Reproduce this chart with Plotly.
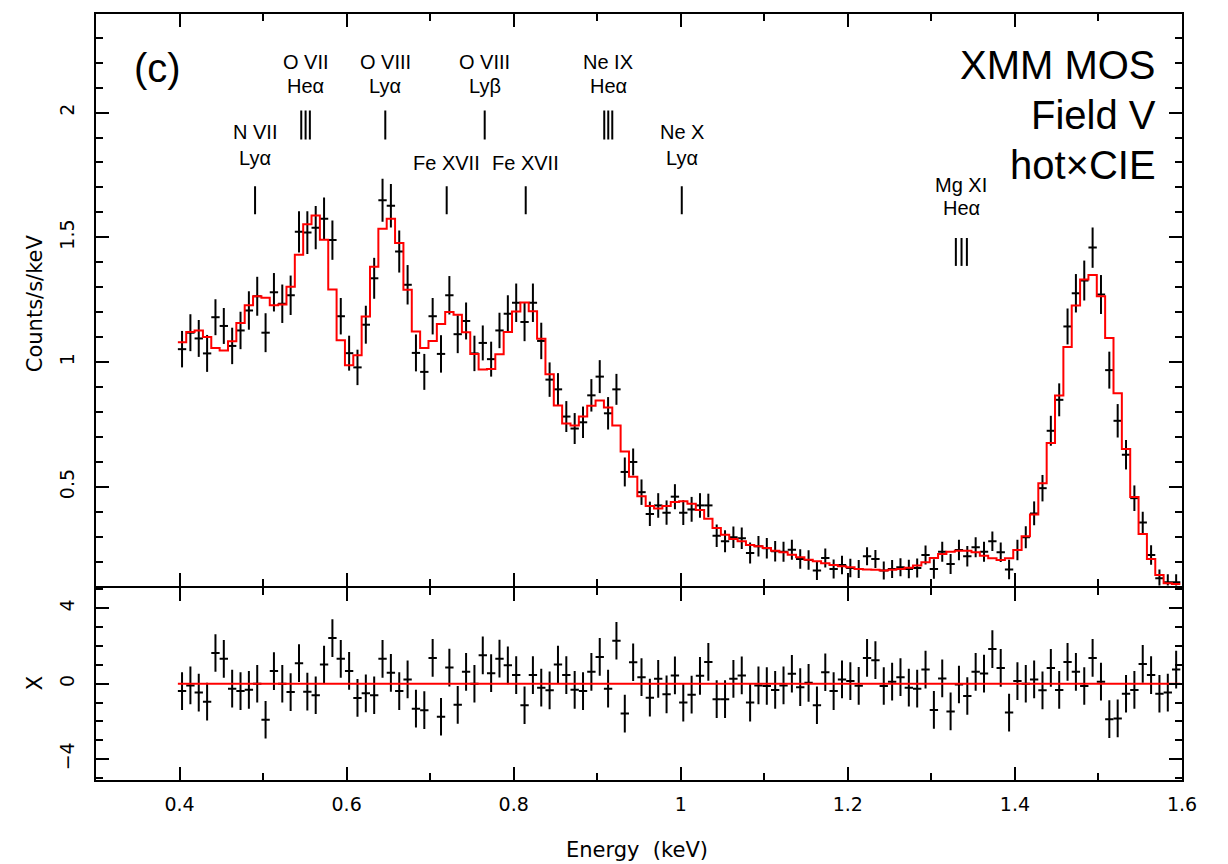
import plotly.graph_objects as go

# Bin centres (keV), binned spectrum, model and residuals
energy_kev = [
    0.403, 0.413, 0.423, 0.433, 0.443, 0.453, 0.463, 0.473, 0.483, 0.493,
    0.503, 0.513, 0.523, 0.533, 0.543, 0.553, 0.563, 0.573, 0.583, 0.593,
    0.603, 0.613, 0.623, 0.633, 0.643, 0.653, 0.663, 0.673, 0.683, 0.693,
    0.703, 0.713, 0.723, 0.733, 0.743, 0.753, 0.763, 0.773, 0.783, 0.793,
    0.803, 0.813, 0.823, 0.833, 0.843, 0.853, 0.863, 0.873, 0.883, 0.893,
    0.903, 0.913, 0.923, 0.933, 0.943, 0.953, 0.963, 0.973, 0.983, 0.993,
    1.003, 1.013, 1.023, 1.033, 1.043, 1.053, 1.063, 1.073, 1.083, 1.093,
    1.103, 1.113, 1.123, 1.133, 1.143, 1.153, 1.163, 1.173, 1.183, 1.193,
    1.203, 1.213, 1.223, 1.233, 1.243, 1.253, 1.263, 1.273, 1.283, 1.293,
    1.303, 1.313, 1.323, 1.333, 1.343, 1.353, 1.363, 1.373, 1.383, 1.393,
    1.403, 1.413, 1.423, 1.433, 1.443, 1.453, 1.463, 1.473, 1.483, 1.493,
    1.503, 1.513, 1.523, 1.533, 1.543, 1.553, 1.563, 1.573, 1.583, 1.593,
]
bin_half_width = 0.005

counts = [
    1.052, 1.118, 1.095, 1.035, 1.180, 1.145, 1.065, 1.127, 1.207, 1.264,
    1.118, 1.280, 1.234, 1.268, 1.522, 1.519, 1.539, 1.575, 1.489, 1.184,
    1.036, 0.979, 1.150, 1.336, 1.649, 1.627, 1.443, 1.310, 1.037, 0.961,
    1.184, 1.033, 1.268, 1.112, 1.165, 1.035, 1.077, 1.012, 1.127, 1.194,
    1.238, 1.161, 1.238, 1.085, 0.930, 0.891, 0.782, 0.734, 0.759, 0.867,
    0.942, 0.795, 0.891, 0.560, 0.600, 0.479, 0.392, 0.426, 0.397, 0.461,
    0.397, 0.410, 0.426, 0.426, 0.304, 0.282, 0.298, 0.294, 0.235, 0.262,
    0.254, 0.242, 0.240, 0.248, 0.211, 0.207, 0.165, 0.215, 0.171, 0.187,
    0.175, 0.171, 0.222, 0.211, 0.165, 0.171, 0.178, 0.171, 0.175, 0.227,
    0.171, 0.240, 0.191, 0.247, 0.222, 0.258, 0.240, 0.282, 0.238, 0.169,
    0.247, 0.298, 0.394, 0.495, 0.725, 0.849, 1.143, 1.276, 1.327, 1.459,
    1.271, 0.968, 0.765, 0.629, 0.455, 0.357, 0.227, 0.134, 0.118, 0.118,
]

counts_err = [
    0.073, 0.074, 0.074, 0.074, 0.072, 0.072, 0.073, 0.075, 0.077, 0.078,
    0.078, 0.077, 0.077, 0.079, 0.083, 0.086, 0.087, 0.085, 0.079, 0.073,
    0.070, 0.071, 0.076, 0.082, 0.086, 0.087, 0.084, 0.079, 0.074, 0.072,
    0.073, 0.075, 0.077, 0.076, 0.074, 0.071, 0.070, 0.070, 0.071, 0.074,
    0.077, 0.077, 0.077, 0.073, 0.069, 0.065, 0.062, 0.062, 0.063, 0.065,
    0.066, 0.065, 0.062, 0.058, 0.054, 0.051, 0.049, 0.049, 0.049, 0.050,
    0.050, 0.050, 0.049, 0.047, 0.045, 0.044, 0.043, 0.043, 0.042, 0.041,
    0.041, 0.041, 0.040, 0.040, 0.039, 0.039, 0.038, 0.038, 0.038, 0.037,
    0.037, 0.036, 0.036, 0.036, 0.036, 0.036, 0.036, 0.037, 0.038, 0.038,
    0.039, 0.040, 0.040, 0.041, 0.041, 0.040, 0.040, 0.039, 0.039, 0.039,
    0.041, 0.044, 0.048, 0.053, 0.060, 0.066, 0.072, 0.077, 0.080, 0.081,
    0.078, 0.074, 0.067, 0.059, 0.051, 0.044, 0.039, 0.035, 0.032, 0.032,
]

model = [
    1.080, 1.121, 1.127, 1.101, 1.057, 1.047, 1.084, 1.157, 1.228, 1.264,
    1.258, 1.228, 1.231, 1.302, 1.430, 1.553, 1.588, 1.490, 1.291, 1.088,
    0.988, 1.028, 1.183, 1.382, 1.535, 1.575, 1.477, 1.290, 1.123, 1.057,
    1.085, 1.153, 1.201, 1.190, 1.120, 1.033, 0.971, 0.973, 1.032, 1.121,
    1.203, 1.239, 1.204, 1.094, 0.951, 0.826, 0.754, 0.746, 0.782, 0.825,
    0.846, 0.818, 0.746, 0.642, 0.541, 0.463, 0.424, 0.414, 0.424, 0.440,
    0.443, 0.433, 0.408, 0.372, 0.335, 0.308, 0.291, 0.282, 0.267, 0.262,
    0.255, 0.244, 0.238, 0.228, 0.218, 0.208, 0.202, 0.194, 0.187, 0.182,
    0.178, 0.171, 0.169, 0.168, 0.165, 0.168, 0.171, 0.176, 0.185, 0.198,
    0.215, 0.231, 0.240, 0.244, 0.244, 0.238, 0.224, 0.214, 0.207, 0.214,
    0.247, 0.302, 0.390, 0.515, 0.676, 0.866, 1.061, 1.227, 1.331, 1.349,
    1.264, 1.097, 0.875, 0.652, 0.460, 0.311, 0.211, 0.147, 0.114, 0.111,
]

residuals = [
    -0.39, -0.09, -0.47, -0.95, 1.63, 1.32, -0.26, -0.39, -0.32, 0.00,
    -1.91, 0.67, 0.00, -0.44, 1.09, -0.42, -0.61, 1.02, 2.42, 1.32,
    0.68, -0.75, -0.51, -0.61, 1.32, 0.58, -0.39, 0.23, -1.32, -1.40,
    1.37, -1.75, 0.86, -1.12, 0.63, 0.00, 1.51, 0.56, 1.33, 0.98,
    0.46, -1.14, 0.46, -0.21, -0.35, 1.02, 0.46, -0.32, -0.39, 0.63,
    1.42, -0.26, 2.28, -1.58, 1.14, 0.35, -0.74, 0.26, -0.56, 0.44,
    -1.00, -0.58, 0.42, 1.16, -0.82, -0.82, 0.26, 0.44, -1.00, -0.09,
    -0.12, -0.33, -0.09, 0.53, -0.18, 0.05, -1.14, 0.61, -0.39, 0.23,
    0.14, -0.11, 1.37, 1.25, -0.12, 0.11, 0.35, -0.21, -0.26, 0.75,
    -1.39, 0.28, -1.47, -0.04, -0.65, 0.63, 0.54, 1.84, 0.84, -1.53,
    0.14, 0.00, 0.23, -0.35, 0.84, -0.33, 1.16, 0.63, -0.12, 1.37,
    0.11, -1.88, -1.84, -0.53, -0.33, 1.05, 0.46, -0.53, -0.47, 0.75,
]
residual_err = [1.0] * len(residuals)

# Line identifications: ion, transition, line energies (keV)
line_ions = ["N VII", "O VII", "O VIII", "Fe XVII", "O VIII", "Fe XVII", "Ne IX", "Ne X", "Mg XI"]
line_transitions = ["Lyα", "Heα", "Lyα", "", "Lyβ", "", "Heα", "Lyα", "Heα"]
line_energies = [
    [0.4904],
    [0.5457, 0.5509, 0.5560],
    [0.6463],
    [0.7198],
    [0.7653],
    [0.8144],
    [0.9084, 0.9132, 0.9180],
    [1.0012],
    [1.3293, 1.3361, 1.3425],
]

# ---------------------------------------------------------------------------
FONT = "Liberation Sans, Arial, sans-serif"
AXFONT = "DejaVu Sans, sans-serif"
BLACK = "#000000"
RED = "#ff0000"

fig = go.Figure()

xerr = [bin_half_width] * len(energy_kev)

# spectrum with error crosses
fig.add_trace(go.Scatter(
    x=energy_kev, y=counts, mode="markers",
    marker=dict(size=1, color=BLACK),
    error_y=dict(type="data", array=counts_err, color=BLACK, thickness=2, width=0),
    error_x=dict(type="data", array=xerr, color=BLACK, thickness=2, width=0),
    xaxis="x2", yaxis="y", showlegend=False, hoverinfo="skip",
))

# model as a histogram step over the bin edges
edges = [c - bin_half_width for c in energy_kev] + [energy_kev[-1] + bin_half_width]
fig.add_trace(go.Scatter(
    x=edges, y=model + [model[-1]], mode="lines",
    line=dict(color=RED, width=2, shape="hv"),
    xaxis="x2", yaxis="y", showlegend=False, hoverinfo="skip",
))

# residuals
fig.add_trace(go.Scatter(
    x=energy_kev, y=residuals, mode="markers",
    marker=dict(size=1, color=BLACK),
    error_y=dict(type="data", array=residual_err, color=BLACK, thickness=2, width=0),
    error_x=dict(type="data", array=xerr, color=BLACK, thickness=2, width=0),
    xaxis="x", yaxis="y2", showlegend=False, hoverinfo="skip",
))
fig.add_trace(go.Scatter(
    x=[edges[0], edges[-1]], y=[0, 0], mode="lines",
    line=dict(color=RED, width=2),
    xaxis="x", yaxis="y2", showlegend=False, hoverinfo="skip",
))

# line markers: tier -> (ion label y, transition label y, tick bottom, tick top)
tiers = {
    "high": (2.2035, 2.1077, 1.8923, 2.008),
    "mid": (1.9202, 1.8165, 1.5931, 1.7048),
    "fe": (1.7965, None, 1.5931, 1.7048),
    "low": (1.7088, 1.617, 1.3856, 1.4973),
}
line_tier = ["mid", "high", "high", "fe", "high", "fe", "high", "mid", "low"]

annotations = []
shapes = []
for ion, trans, ens, tier in zip(line_ions, line_transitions, line_energies, line_tier):
    y_ion, y_trans, y0, y1 = tiers[tier]
    xc = sum(ens) / len(ens)
    annotations.append(dict(x=xc, y=y_ion, xref="x2", yref="y", text=ion, showarrow=False,
                            xanchor="center", yanchor="middle",
                            font=dict(family=FONT, size=20, color=BLACK)))
    if trans:
        annotations.append(dict(x=xc, y=y_trans, xref="x2", yref="y", text=trans, showarrow=False,
                                xanchor="center", yanchor="middle",
                                font=dict(family=FONT, size=20, color=BLACK)))
    for e in ens:
        shapes.append(dict(type="line", xref="x2", yref="y", x0=e, x1=e, y0=y0, y1=y1,
                           line=dict(color=BLACK, width=2)))

# panel label and title block
annotations.append(dict(x=0.0562, y=0.9297, xref="paper", yref="paper", text="(c)", showarrow=False,
                        xanchor="center", yanchor="middle",
                        font=dict(family=FONT, size=40, color=BLACK)))
for txt, yy in [("XMM MOS", 0.9336), ("Field V", 0.8684), ("hot×CIE", 0.8034)]:
    annotations.append(dict(x=0.978, y=yy, xref="paper", yref="paper", text=txt, showarrow=False,
                            xanchor="right", yanchor="middle",
                            font=dict(family=FONT, size=40, color=BLACK)))

# axis titles
annotations.append(dict(x=-0.0562, y=0.6224, xref="paper", yref="paper", text="Counts/s/keV",
                        showarrow=False, textangle=-90, xanchor="center", yanchor="middle",
                        font=dict(family=AXFONT, size=21, color=BLACK)))
annotations.append(dict(x=-0.0562, y=0.1263, xref="paper", yref="paper", text="X",
                        showarrow=False, textangle=-90, xanchor="center", yanchor="middle",
                        font=dict(family=AXFONT, size=21, color=BLACK)))
annotations.append(dict(x=0.4982, y=-0.0911, xref="paper", yref="paper", text="Energy  (keV)",
                        showarrow=False, xanchor="center", yanchor="middle",
                        font=dict(family=AXFONT, size=21, color=BLACK)))

# panels share one boundary line; a 2 px gap lets the two outward-drawn lines coincide
split = 194 / 768
gap = 1 / 768

axis_common = dict(
    showline=True, linecolor=BLACK, linewidth=2, mirror="ticks",
    ticks="inside", tickcolor=BLACK, tickwidth=2, ticklen=13,
    showgrid=False, zeroline=False,
    tickfont=dict(family=AXFONT, size=19, color=BLACK),
)

fig.update_layout(
    width=1228, height=864,
    margin=dict(l=96, r=46, t=12, b=84),
    paper_bgcolor="white", plot_bgcolor="white",
    xaxis=dict(axis_common, range=[0.3, 1.6], anchor="y2", domain=[0, 1],
               tick0=0.4, dtick=0.2, ticklabelstandoff=6,
               minor=dict(ticks="inside", ticklen=7, tickwidth=2, tickcolor=BLACK, dtick=0.1, tick0=0.3)),
    xaxis2=dict(axis_common, range=[0.3, 1.6], anchor="y", domain=[0, 1], matches="x",
                tick0=0.4, dtick=0.2, showticklabels=False,
                minor=dict(ticks="inside", ticklen=7, tickwidth=2, tickcolor=BLACK, dtick=0.1, tick0=0.3)),
    yaxis=dict(axis_common, range=[0.105, 2.395], domain=[split + gap, 1], anchor="x2",
               tick0=0, dtick=0.5, tickangle=-90, ticklabelstandoff=12,
               minor=dict(ticks="inside", ticklen=7, tickwidth=2, tickcolor=BLACK, dtick=0.1, tick0=0)),
    yaxis2=dict(axis_common, range=[-5.105, 5.105], domain=[0, split - gap], anchor="x",
                tick0=0, dtick=4, tickangle=-90, ticklabelstandoff=12,
                minor=dict(ticks="inside", ticklen=7, tickwidth=2, tickcolor=BLACK, dtick=1, tick0=0)),
    annotations=annotations,
    shapes=shapes,
)

fig.write_html("out.html")
